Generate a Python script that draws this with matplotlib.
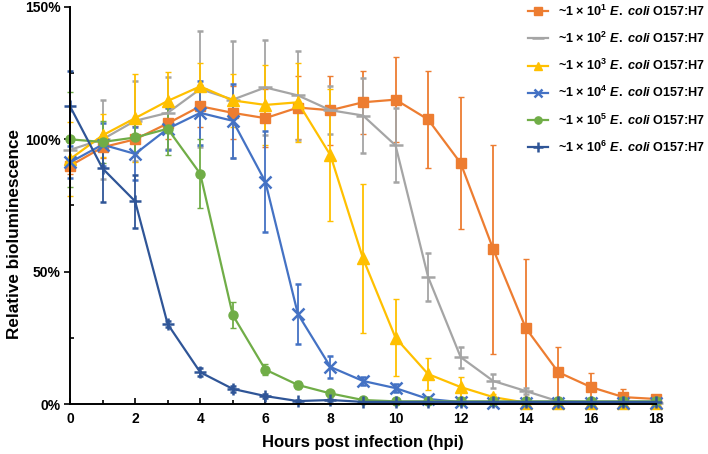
import numpy as np
import matplotlib
matplotlib.use('Agg')
import matplotlib.pyplot as plt
from matplotlib.ticker import MultipleLocator, FuncFormatter

plt.rcParams['font.family'] = 'Liberation Sans'
plt.rcParams['font.weight'] = 'bold'
plt.rcParams['mathtext.fontset'] = 'custom'
plt.rcParams['mathtext.rm'] = 'Liberation Sans:bold'
plt.rcParams['mathtext.it'] = 'Liberation Sans:bold:italic'

# hours post infection
hours = list(range(19))

# relative bioluminescence (%), one list per inoculum
e1 = [90, 97, 100, 106, 112.5, 110, 108, 112, 111, 114, 115, 107.5, 91, 58.5, 28.7, 12, 6.4, 2.6, 1.9]
e1_err = [3, 4, 5, 6, 8, 10, 11, 12, 13, 12, 16, 18.5, 25, 39.5, 26, 9.5, 5.3, 3, 1]

e2 = [96, 100, 107, 110, 119, 115, 119.6, 116.6, 111, 109, 97.7, 48, 17.7, 8.7, 4.9, 1, 0.5, 0.5, 0.5]
e2_err = [5, 15, 15, 13.6, 22, 22, 18, 16.7, 9, 14, 14, 9, 4, 2.6, 1, 0.5, 0.3, 0.3, 0.3]

e3 = [92.5, 101.5, 108, 114.5, 120, 114.7, 113, 114, 94, 55, 25, 11.3, 6.4, 2.6, 0.5, 0.3, 0.3, 0.3, 0.3]
e3_err = [14, 8, 16.5, 11, 9, 10, 15, 15, 25, 28, 14.5, 6, 3.8, 1, 0.3, 0.2, 0.2, 0.2, 0.2]

e4 = [91.3, 98, 94.5, 104, 110, 107, 84, 34, 14, 8.7, 6, 1.9, 0.7, 0.5, 0.5, 0.5, 0.5, 0.5, 0.5]
e4_err = [6, 8, 10, 8, 12, 14, 19, 11.5, 4, 1.5, 1.5, 0.5, 0.3, 0.3, 0.3, 0.3, 0.3, 0.3, 0.3]

e5 = [100, 99, 100.7, 104, 87, 33.6, 13, 7.2, 4, 1.5, 1, 1, 1, 1, 1, 1, 1, 1, 1]
e5_err = [18, 8, 6, 10, 13, 5, 2, 1.5, 1, 0.5, 0.3, 0.3, 0.3, 0.3, 0.3, 0.3, 0.3, 0.3, 0.3]

e6 = [112.5, 89, 76.6, 30.2, 12, 5.7, 3, 1.1, 1.5, 0.8, 0.8, 0.8, 0.8, 0.8, 0.8, 0.8, 0.8, 0.8, 0.8]
e6_err = [13.5, 12.5, 10, 1, 1.5, 1, 0.8, 0.5, 0.5, 0.3, 0.3, 0.3, 0.3, 0.3, 0.3, 0.3, 0.3, 0.3, 0.3]

exponents = ['1', '2', '3', '4', '5', '6']

series = [
    (e1, e1_err, '#ED7D31', 's', 7.5),
    (e2, e2_err, '#A5A5A5', '_', 10),
    (e3, e3_err, '#FFC000', '^', 8),
    (e4, e4_err, '#4472C4', 'x', 8),
    (e5, e5_err, '#70AD47', 'o', 6.5),
    (e6, e6_err, '#2F5597', '+', 9),
]

fig = plt.figure(figsize=(7.08, 4.54), dpi=100)
ax = fig.add_axes([70/708, 1 - 404/454, 586/708, 397/454])

handles = []
labels = []
for (vals, err, col, mk, ms), ex in zip(series, exponents):
    label = r'~1 × $\mathrm{10^{%s}}$ $\mathit{E.\ coli}$ O157:H7' % ex
    cont = ax.errorbar(hours, vals, yerr=err, color=col, ecolor=col, marker=mk, markersize=ms,
                       markeredgewidth=1.8 if mk in 'x+_' else 1, lw=1.6, elinewidth=1.3,
                       capsize=2.5, capthick=1.3, clip_on=False)
    handles.append(cont[0])
    labels.append(label)

ax.set_xlim(0, 18)
ax.set_ylim(0, 150)
ax.spines['top'].set_visible(False)
ax.spines['right'].set_visible(False)
ax.spines['left'].set_linewidth(1.4)
ax.spines['bottom'].set_linewidth(1.4)

ax.xaxis.set_major_locator(MultipleLocator(2))
ax.xaxis.set_minor_locator(MultipleLocator(1))
ax.yaxis.set_major_locator(MultipleLocator(50))
ax.yaxis.set_minor_locator(MultipleLocator(25))
ax.yaxis.set_major_formatter(FuncFormatter(lambda v, p: '%d%%' % v))
ax.tick_params(axis='x', which='major', direction='in', length=4, width=1.2, labelsize=10, pad=6)
ax.tick_params(axis='x', which='minor', direction='in', length=3, width=1.2)
ax.tick_params(axis='y', which='major', direction='out', length=4, width=1.2, labelsize=10, pad=3)
ax.tick_params(axis='y', which='minor', direction='in', length=3, width=1.2)

ax.set_xlabel('Hours post infection (hpi)', fontsize=12, fontweight='bold', labelpad=6)
ax.set_ylabel('Relative bioluminescence', fontsize=12.3, fontweight='bold')
ax.yaxis.set_label_coords(-0.082, 0.428)

leg = fig.legend(handles, labels, loc='upper left', bbox_to_anchor=(528/708, 1 - 3.5/454),
                 frameon=False, fontsize=9.1, handlelength=1.6, handletextpad=0.8,
                 labelspacing=0.95, borderpad=0, borderaxespad=0, markerscale=0.8)

fig.savefig('out.png', dpi=100)
